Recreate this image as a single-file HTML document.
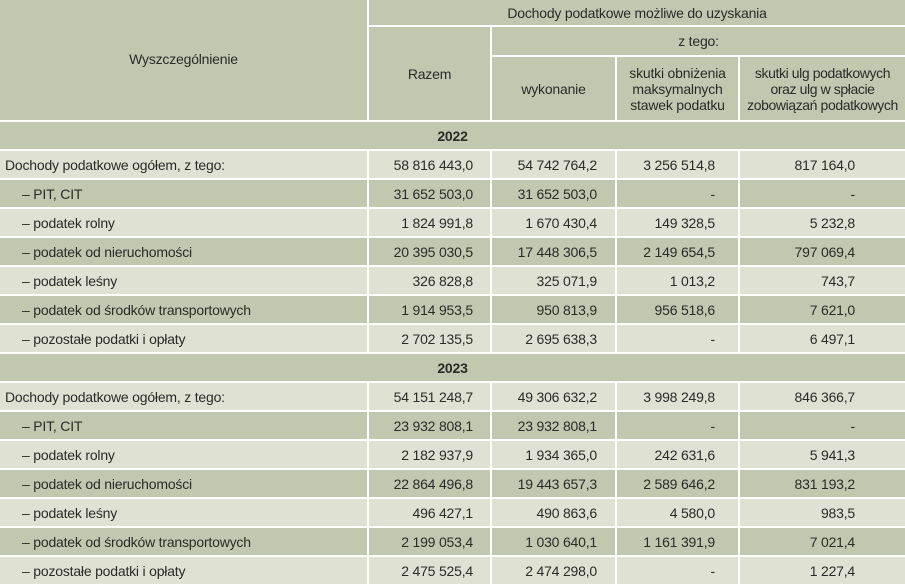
<!DOCTYPE html>
<html><head><meta charset="utf-8"><style>
body{margin:0;background:#fff;width:905px;height:588px;overflow:hidden}
table{border-collapse:collapse;table-layout:fixed;width:905px;font-family:"Liberation Sans",Arial,sans-serif;font-size:14px;color:#2a2a2a;letter-spacing:-0.2px}
td{border:2px solid #fff;padding:0;height:27px;background:#dfe2d3;text-align:right;white-space:nowrap}
tr.d td{background:#c0c9b0}
tr.h td{background:#c0c9b0;text-align:center;line-height:16px}
td.l{text-align:left;padding-left:5px}
td.s{padding-left:22px;text-align:left}
tr.y td{background:#c0c9b0;text-align:center;font-weight:bold}
td.c1{padding-right:17px}td.c2{padding-right:18px}td.c3{padding-right:23px}td.c4{padding-right:50px}
td:first-child{border-left:0}td:last-child{border-right:0}
tr:first-child td{border-top:0}
</style></head><body>
<table>
<colgroup><col style="width:368px"><col style="width:123px"><col style="width:125px"><col style="width:123px"><col style="width:166px"></colgroup>
<tr class="h"><td rowspan="3" style="padding-bottom:2px">Wyszczególnienie</td><td colspan="4" style="height:25px">Dochody podatkowe możliwe do uzyskania</td></tr>
<tr class="h"><td rowspan="2">Razem</td><td colspan="3" style="height:28px">z tego:</td></tr>
<tr class="h"><td style="height:63px">wykonanie</td><td>skutki obniżenia<br>maksymalnych<br>stawek podatku</td><td style="letter-spacing:-0.4px">skutki ulg podatkowych<br>oraz ulg w spłacie<br>zobowiązań podatkowych</td></tr>
<tr class="y"><td colspan="5">2022</td></tr>
<tr><td class="l">Dochody podatkowe ogółem, z tego:</td><td class="c1">58 816 443,0</td><td class="c2">54 742 764,2</td><td class="c3">3 256 514,8</td><td class="c4">817 164,0</td></tr>
<tr class="d"><td class="s">– PIT, CIT</td><td class="c1">31 652 503,0</td><td class="c2">31 652 503,0</td><td class="c3">-</td><td class="c4">-</td></tr>
<tr><td class="s">– podatek rolny</td><td class="c1">1 824 991,8</td><td class="c2">1 670 430,4</td><td class="c3">149 328,5</td><td class="c4">5 232,8</td></tr>
<tr class="d"><td class="s">– podatek od nieruchomości</td><td class="c1">20 395 030,5</td><td class="c2">17 448 306,5</td><td class="c3">2 149 654,5</td><td class="c4">797 069,4</td></tr>
<tr><td class="s">– podatek leśny</td><td class="c1">326 828,8</td><td class="c2">325 071,9</td><td class="c3">1 013,2</td><td class="c4">743,7</td></tr>
<tr class="d"><td class="s">– podatek od środków transportowych</td><td class="c1">1 914 953,5</td><td class="c2">950 813,9</td><td class="c3">956 518,6</td><td class="c4">7 621,0</td></tr>
<tr><td class="s">– pozostałe podatki i opłaty</td><td class="c1">2 702 135,5</td><td class="c2">2 695 638,3</td><td class="c3">-</td><td class="c4">6 497,1</td></tr>
<tr class="y"><td colspan="5">2023</td></tr>
<tr><td class="l">Dochody podatkowe ogółem, z tego:</td><td class="c1">54 151 248,7</td><td class="c2">49 306 632,2</td><td class="c3">3 998 249,8</td><td class="c4">846 366,7</td></tr>
<tr class="d"><td class="s">– PIT, CIT</td><td class="c1">23 932 808,1</td><td class="c2">23 932 808,1</td><td class="c3">-</td><td class="c4">-</td></tr>
<tr><td class="s">– podatek rolny</td><td class="c1">2 182 937,9</td><td class="c2">1 934 365,0</td><td class="c3">242 631,6</td><td class="c4">5 941,3</td></tr>
<tr class="d"><td class="s">– podatek od nieruchomości</td><td class="c1">22 864 496,8</td><td class="c2">19 443 657,3</td><td class="c3">2 589 646,2</td><td class="c4">831 193,2</td></tr>
<tr><td class="s">– podatek leśny</td><td class="c1">496 427,1</td><td class="c2">490 863,6</td><td class="c3">4 580,0</td><td class="c4">983,5</td></tr>
<tr class="d"><td class="s">– podatek od środków transportowych</td><td class="c1">2 199 053,4</td><td class="c2">1 030 640,1</td><td class="c3">1 161 391,9</td><td class="c4">7 021,4</td></tr>
<tr><td class="s">– pozostałe podatki i opłaty</td><td class="c1">2 475 525,4</td><td class="c2">2 474 298,0</td><td class="c3">-</td><td class="c4">1 227,4</td></tr>
</table>
</body></html>
